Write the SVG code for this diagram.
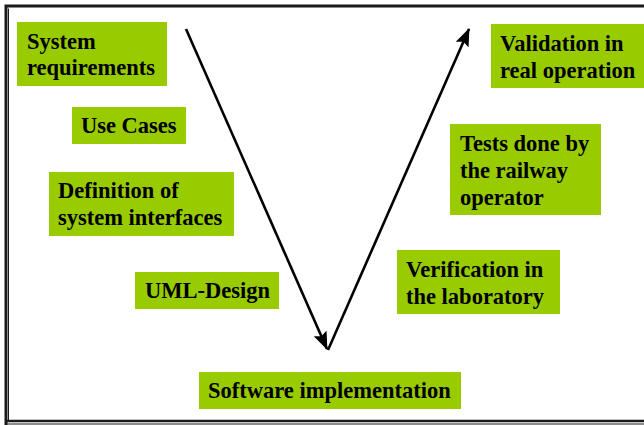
<svg xmlns="http://www.w3.org/2000/svg" width="644" height="425" viewBox="0 0 644 425">
  <style>
    .box { fill: #99CC00; }
    .lbl { font-family: "Liberation Serif", "Times New Roman", serif; font-weight: bold; font-size: 22.5px; fill: #000; }
    .frame { fill: none; stroke: #1a1a1a; }
    .conn { stroke: #000; stroke-width: 2.6; fill: none; }
  </style>
  <defs>
    <marker id="head" viewBox="0 0 18 14" refX="17" refY="7" markerWidth="18" markerHeight="14" markerUnits="userSpaceOnUse" orient="auto">
      <path d="M0,0 L18,7 L0,14 L3,7 Z" fill="#000"/>
    </marker>
  </defs>
  <rect width="644" height="425" fill="#fff"/>

  <!-- outer frame -->
  <g id="frame">
    <path class="frame" stroke-width="3" d="M6,426 V6 H650"/>
    <path class="frame" stroke-width="1" stroke="#666" d="M8.5,420 V8.5"/>
    <path class="frame" stroke-width="2.5" d="M6,421 H650"/>
    <path class="frame" stroke-width="1" d="M6,424 H650"/>
  </g>

  <!-- V-model connectors -->
  <g id="connectors">
    <line class="conn" x1="186" y1="29" x2="327" y2="349" marker-end="url(#head)"/>
    <line class="conn" x1="328" y1="350" x2="469" y2="29" marker-end="url(#head)"/>
  </g>

  <g id="system-requirements">
    <rect class="box" x="17" y="22" width="150" height="64"/>
    <text class="lbl" x="27" y="49">System</text>
    <text class="lbl" x="27" y="75">requirements</text>
  </g>

  <g id="use-cases">
    <rect class="box" x="72" y="107" width="114" height="37"/>
    <text class="lbl" x="81" y="133">Use Cases</text>
  </g>

  <g id="system-interfaces">
    <rect class="box" x="49" y="172" width="185" height="64"/>
    <text class="lbl" x="58" y="198">Definition of</text>
    <text class="lbl" x="58" y="225">system interfaces</text>
  </g>

  <g id="uml-design">
    <rect class="box" x="135" y="272" width="144" height="37"/>
    <text class="lbl" x="145" y="298">UML-Design</text>
  </g>

  <g id="software-implementation">
    <rect class="box" x="199" y="372" width="262" height="37"/>
    <text class="lbl" x="208" y="398">Software implementation</text>
  </g>

  <g id="verification">
    <rect class="box" x="397" y="250" width="163" height="64"/>
    <text class="lbl" x="406" y="277">Verification in</text>
    <text class="lbl" x="406" y="304">the laboratory</text>
  </g>

  <g id="operator-tests">
    <rect class="box" x="450" y="124" width="151" height="91"/>
    <text class="lbl" x="460" y="151">Tests done by</text>
    <text class="lbl" x="460" y="178">the railway</text>
    <text class="lbl" x="460" y="205">operator</text>
  </g>

  <g id="validation">
    <rect class="box" x="491" y="24" width="153" height="64"/>
    <text class="lbl" x="500" y="51">Validation in</text>
    <text class="lbl" x="500" y="78">real operation</text>
  </g>
</svg>
